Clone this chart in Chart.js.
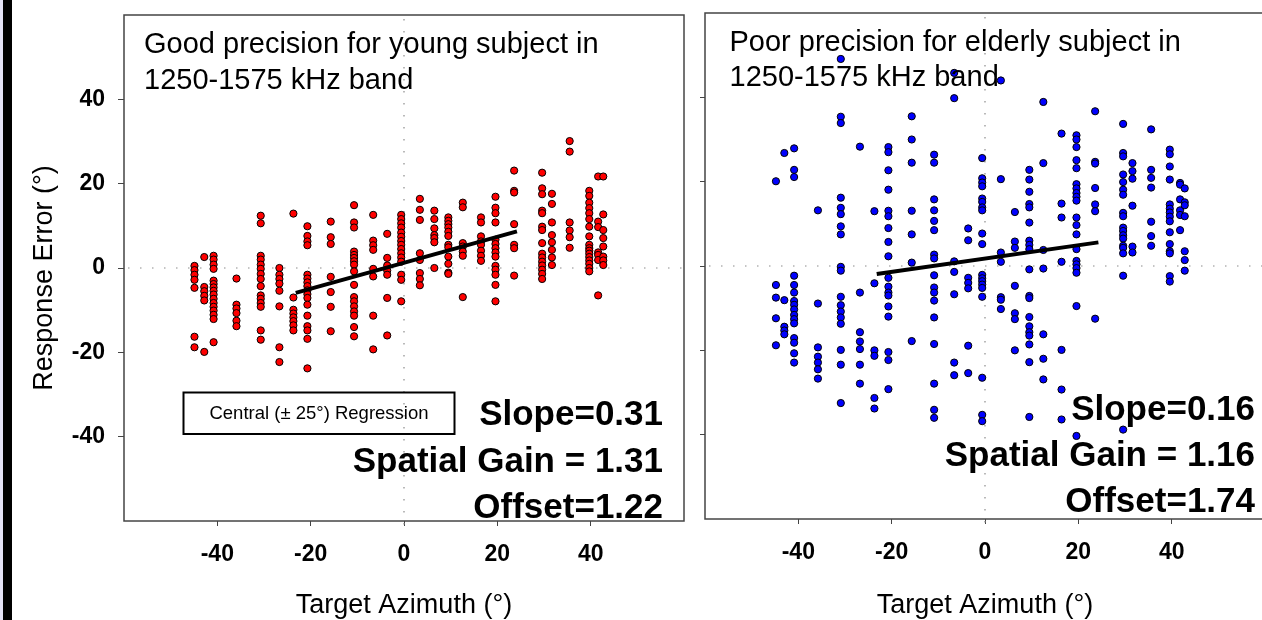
<!DOCTYPE html>
<html>
<head>
<meta charset="utf-8">
<script src="https://cdn.jsdelivr.net/npm/chart.js@4.4.1/dist/chart.umd.min.js"></script>
<style>
  html, body { margin: 0; padding: 0; background: #fff; overflow: hidden; width: 1262px; height: 620px; }
  #edge { position: absolute; left: 0; top: 0; width: 3px; height: 620px; background: #e4e2f6; }
  #bar { position: absolute; left: 3px; top: 0; width: 9px; height: 620px; background: #000; }
  #young { position: absolute; left: 0; top: 0; }
  #elderly { position: absolute; left: 700px; top: 0; }
</style>
</head>
<body>
<canvas id="young" width="700" height="620"></canvas>
<canvas id="elderly" width="572" height="620"></canvas>
<div id="edge"></div><div id="bar"></div>
<script>
// target azimuths (deg) of each speaker column, and the response errors read per column
const youngTargets = [-44.9, -42.8, -40.8, -35.9, -30.7, -26.7, -23.7, -20.7, -15.7, -10.7, -6.6, -3.6, -0.6,
  3.4, 6.5, 9.5, 12.6, 16.5, 19.6, 23.6, 29.6, 31.7, 35.5, 39.7, 41.6, 42.7];
const youngErrors = [
  [0.5, -0.5, -1.6, -2.8, -4.7, -16.3, -18.8],
  [2.6, -4.5, -5.5, -6.6, -7.7, -19.9],
  [2.9, 2.0, 0.8, -0.2, -3.0, -3.8, -4.6, -5.4, -6.3, -7.3, -8.3, -9.2, -10.1, -11.1, -12.1, -17.6],
  [-2.5, -8.7, -9.6, -10.7, -12.5, -13.8],
  [12.4, 10.6, 2.9, 2.0, 0.8, -0.2, -1.4, -2.6, -4.3, -6.5, -7.3, -8.3, -9.2, -14.8, -17.0],
  [0.0, -1.6, -2.6, -3.7, -5.4, -9.1, -18.8, -22.3],
  [12.9, -7.0, -9.9, -10.8, -11.7, -12.6, -13.6, -14.8],
  [9.9, 7.6, 6.3, 5.4, -1.6, -2.5, -3.4, -4.3, -5.3, -6.2, -7.1, -8.7, -11.3, -13.8, -14.8, -16.8, -23.8],
  [11.0, 7.3, 5.7, -2.1, -5.7, -9.2, -15.0],
  [14.9, 10.8, 9.6, 3.9, 3.1, 2.4, 1.6, 0.8, -0.8, -4.0, -6.9, -7.9, -9.1, -10.3, -11.3, -14.0, -16.2],
  [12.6, 6.5, 5.4, 4.3, -0.2, -2.0, -11.3, -19.3],
  [8.1, 2.4, 0.6, -0.6, -1.6, -7.1, -16.0],
  [12.6, 11.6, 10.6, 9.6, 8.4, 7.4, 6.4, 5.5, 4.5, 3.5, 2.5, 1.5, -1.6, -2.8, -7.9],
  [16.4, 13.8, 11.4, 3.5, 1.9, -1.2, -2.6, -4.1],
  [13.6, 11.6, 9.4, 7.8, 7.1, 6.1, 0.0],
  [12.0, 11.2, 10.4, 9.6, 8.6, 7.6, 5.5, 4.9, 2.7, 1.0, -1.1, -1.4],
  [15.5, 14.4, 5.9, 5.1, 3.9, 2.9, -6.9],
  [12.0, 10.8, 7.5, 6.3, 5.5, 4.1, 2.9, 1.7],
  [16.9, 14.3, 13.0, 10.8, 6.7, 5.7, 4.7, 3.7, 2.7, 0.5, -0.4, -1.6, -4.0, -7.9],
  [23.1, 18.3, 17.9, 10.4, 5.5, 4.7, -1.8],
  [22.6, 18.9, 17.5, 13.6, 13.0, 9.8, 9.0, 5.9, 3.4, 2.5, 1.5, 0.6, -0.4, -1.4, -2.6],
  [17.6, 15.2, 10.8, 7.8, 6.1, 4.3, 2.5, 0.7],
  [30.1, 27.6, 10.8, 8.9, 7.3, 4.8],
  [18.3, 17.1, 15.5, 14.2, 13.0, 11.6, 9.8, 7.5, 5.5, 4.7, 4.1, 3.4, 2.6, 1.8, 1.0, 0.0, -0.8],
  [21.7, 11.0, 9.7, 3.7, 3.1, 1.9, -6.5],
  [21.7, 12.7, 9.0, 7.1, 5.1, 2.7, 1.8, 0.7]
];

const elderlyTargets = [-44.8, -43.0, -40.9, -35.8, -30.9, -26.8, -23.7, -20.7, -15.7, -10.9, -6.6, -3.6, -0.6,
  3.4, 6.4, 9.5, 12.5, 16.4, 19.6, 23.6, 29.6, 31.6, 35.6, 39.6, 41.8, 42.8];
const elderlyErrors = [
  [20.1, -4.5, -7.5, -12.4, -18.8],
  [26.8, -8.1, -14.4, -15.3, -16.2],
  [27.9, 22.8, 21.1, -2.3, -4.5, -6.3, -8.3, -9.2, -10.3, -11.6, -12.6, -13.6, -17.1, -18.2, -20.7, -22.9],
  [13.2, -8.9, -19.3, -21.5, -22.9, -24.5, -26.7],
  [49.1, 35.4, 33.9, 16.2, 13.8, 12.3, 9.4, 7.5, -0.2, -1.1, -7.3, -9.3, -10.8, -12.2, -13.7, -19.9, -23.4, -32.5],
  [28.3, -6.3, -15.7, -17.9, -19.7, -23.4, -27.9],
  [13.0, -4.1, -20.0, -21.3, -31.3, -33.8],
  [28.2, 27.0, 22.7, 18.1, 13.1, 11.8, 9.0, 5.7, 2.3, -2.8, -4.9, -6.3, -7.0, -9.6, -12.0, -20.4, -22.3, -29.2],
  [35.5, 30.0, 24.5, 13.1, 7.5, 0.8, -17.8],
  [26.4, 24.5, 15.8, 13.2, 10.7, 8.5, 2.7, 1.8, -2.2, -5.1, -6.3, -8.2, -12.2, -18.5, -27.9, -34.1, -36.0],
  [45.8, 39.8, 1.1, -1.4, -6.7, -22.9, -25.9],
  [8.9, 6.1, -2.8, -4.0, -5.3, -18.9, -25.4],
  [25.6, 20.8, 19.8, 18.9, 16.0, 15.2, 13.9, 13.2, 7.7, 5.2, -2.1, -2.9, -3.6, -4.4, -5.2, -7.3, -26.5, -35.3, -36.8],
  [44.0, 20.6, 3.2, 1.0, -7.4, -8.0, -10.2],
  [12.8, 5.8, 4.3, -4.7, -11.2, -12.6, -20.0],
  [22.8, 20.5, 17.6, 14.7, 13.9, 10.3, 6.0, 5.0, 4.0, -0.8, -7.1, -7.6, -12.1, -14.3, -15.7, -16.5, -18.6, -22.8, -35.8],
  [38.9, 24.4, 3.8, -0.6, -16.2, -22.0, -26.9],
  [31.4, 14.8, 11.5, 1.0, -19.9, -29.3, -36.4],
  [31.0, 30.0, 28.2, 25.1, 23.2, 19.4, 18.4, 17.3, 16.4, 15.5, 11.5, 9.7, 7.5, 4.0, 1.2, 0.4, -0.5, -1.6, -9.5, -40.3],
  [36.7, 24.7, 24.3, 18.5, 14.6, 13.0, -12.5],
  [33.7, 26.8, 26.0, 21.7, 19.9, 18.1, 16.9, 12.6, 11.8, 9.1, 8.3, 7.3, 6.5, 4.8, 4.3, 3.0, -2.3, -38.8],
  [24.4, 22.5, 20.7, 14.3, 4.6, 3.2],
  [32.4, 22.8, 20.9, 18.6, 10.5, 7.1, 4.8],
  [27.6, 26.5, 23.6, 20.5, 14.6, 13.6, 12.7, 11.7, 10.6, 8.0, 5.2, 3.5, 3.0, -2.4, -3.7],
  [19.7, 19.3, 15.8, 13.2, 12.1, 8.5],
  [18.4, 15.1, 14.4, 11.8, 3.5, 1.4, -1.1]
];

// central (+/-25 deg) regression line end points
const youngFitX = [-23.2, 24.2];
const youngFitY = [-5.9, 8.7];
const elderlyFitX = [-23.2, 24.3];
const elderlyFitY = [-1.9, 5.6];

const tickValues = [-40, -20, 0, 20, 40];
const youngTitle = ['Good precision for young subject in', '1250-1575 kHz band'];
const elderlyTitle = ['Poor precision for elderly subject in', '1250-1575 kHz band'];
const youngStats = ['Slope=0.31', 'Spatial Gain = 1.31', 'Offset=1.22'];
const elderlyStats = ['Slope=0.16', 'Spatial Gain = 1.16', 'Offset=1.74'];
const legendText = 'Central (\u00b1 25\u00b0) Regression';
const yTitle = 'Response Error (\u00b0)';
const xTitle = 'Target Azimuth (\u00b0)';

const FONT = "'Liberation Sans', Arial, sans-serif";

function toPoints(targets, errors) {
  const pts = [];
  targets.forEach((t, i) => errors[i].forEach(e => pts.push({x: t, y: e})));
  return pts;
}

// dotted zero lines, frame and the in-plot texts
const panelText = {
  id: 'panelText',
  beforeDatasetsDraw(chart, args, o) {
    const {ctx, chartArea: a, scales: {x, y}} = chart;
    ctx.save();
    ctx.strokeStyle = '#8c8c8c';
    ctx.lineWidth = 1.2;
    ctx.setLineDash([1.5, 10.5]);
    ctx.beginPath();
    const x0 = x.getPixelForValue(0), y0 = y.getPixelForValue(0);
    ctx.moveTo(x0, a.top + 4); ctx.lineTo(x0, a.bottom + 5);
    ctx.moveTo(a.left + 4, y0); ctx.lineTo(a.right, y0);
    ctx.stroke();
    ctx.restore();
  },
  afterDatasetsDraw(chart, args, o) {
    const {ctx, chartArea: a} = chart;
    ctx.save();
    ctx.fillStyle = '#000';
    ctx.textBaseline = 'alphabetic';
    ctx.font = '29px ' + FONT;
    ctx.textAlign = 'left';
    o.title.forEach((s, i) => ctx.fillText(s, o.titleX, o.titleY[i]));
    ctx.font = 'bold 35px ' + FONT;
    ctx.textAlign = 'right';
    o.stats.forEach((s, i) => ctx.fillText(s, o.statsX, o.statsY[i]));
    if (o.box) {
      const b = o.box;
      ctx.strokeStyle = '#000';
      ctx.lineWidth = 2;
      ctx.strokeRect(b.x, b.y, b.w, b.h);
      ctx.font = '18.5px ' + FONT;
      ctx.textAlign = 'center';
      ctx.textBaseline = 'middle';
      ctx.fillText(b.text, b.x + b.w / 2, b.y + b.h / 2 + 1);
    }
    if (o.yTitle) {
      ctx.translate(o.yTitle.x, o.yTitle.y);
      ctx.rotate(-Math.PI / 2);
      ctx.font = '27px ' + FONT;
      ctx.textAlign = 'center';
      ctx.textBaseline = 'middle';
      ctx.fillText(o.yTitle.text, 0, 0);
      ctx.setTransform(1, 0, 0, 1, 0, 0);
    }
    ctx.strokeStyle = '#444';
    ctx.lineWidth = 1.5;
    ctx.setLineDash([]);
    ctx.strokeRect(a.left, a.top, a.right - a.left, a.bottom - a.top);
    ctx.restore();
  }
};

function makeScales(showY, xHeight, yWidth) {
  return {
    x: {
      type: 'linear', min: -60, max: 60,
      ticks: { stepSize: 20, color: '#000', padding: 15, font: {family: FONT, size: 23, weight: 'bold'} },
      grid: { drawOnChartArea: false, tickLength: 5, color: '#444' },
      border: { display: false },
      title: { display: true, text: xTitle, color: '#000', padding: {top: 0, bottom: 0},
               font: {family: FONT, size: 27, lineHeight: 1.05} },
      afterBuildTicks: s => { s.ticks = tickValues.map(v => ({value: v})); },
      afterFit: s => { s.height = xHeight; s.paddingLeft = 0; s.paddingRight = 0; }
    },
    y: {
      type: 'linear', min: -60, max: 60,
      ticks: { display: showY, stepSize: 20, color: '#000', padding: 13, font: {family: FONT, size: 23, weight: 'bold'} },
      grid: { drawOnChartArea: false, tickLength: showY ? 6 : 5, color: '#444' },
      border: { display: false },
      afterBuildTicks: s => { s.ticks = tickValues.map(v => ({value: v})); },
      afterFit: s => { s.width = yWidth; s.paddingTop = 0; s.paddingBottom = 0; }
    }
  };
}

function makeChart(id, points, fitX, fitY, color, showY, layout, textOpts) {
  return new Chart(document.getElementById(id), {
    type: 'scatter',
    data: {
      datasets: [
        {
          data: fitX.map((v, i) => ({x: v, y: fitY[i]})),
          showLine: true, borderColor: '#000', borderWidth: 4, pointRadius: 0, order: 0
        },
        {
          data: points, backgroundColor: color, borderColor: '#000', borderWidth: 1,
          pointRadius: 3.6, order: 1
        }
      ]
    },
    options: {
      responsive: false,
      animation: false,
      events: [],
      layout: { padding: layout.padding },
      scales: makeScales(showY, layout.xHeight, layout.yWidth),
      plugins: { legend: { display: false }, tooltip: { enabled: false }, panelText: textOpts }
    },
    plugins: [panelText]
  });
}

makeChart('young', toPoints(youngTargets, youngErrors), youngFitX, youngFitY, '#ff0000', true,
  { padding: {left: 0, top: 15, right: 16, bottom: 0}, xHeight: 99, yWidth: 124 },
  { title: youngTitle, titleX: 144, titleY: [53, 88.5],
    stats: youngStats, statsX: 663, statsY: [425, 471.5, 518],
    box: { x: 183.5, y: 392.5, w: 271, h: 41.5, text: legendText },
    yTitle: { text: yTitle, x: 45, y: 278 } });

makeChart('elderly', toPoints(elderlyTargets, elderlyErrors), elderlyFitX, elderlyFitY, '#0000ff', false,
  { padding: {left: 0, top: 13, right: 7, bottom: 0}, xHeight: 101, yWidth: 5 },
  { title: elderlyTitle, titleX: 29.5, titleY: [51, 86],
    stats: elderlyStats, statsX: 555, statsY: [419.5, 466, 511.5] });
</script>
</body>
</html>
